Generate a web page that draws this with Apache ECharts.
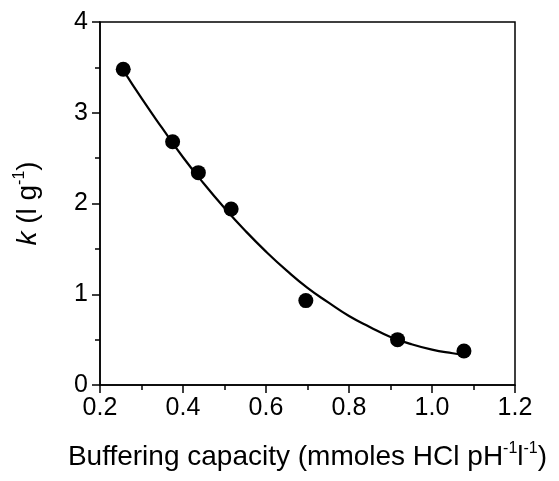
<!DOCTYPE html>
<html>
<head>
<meta charset="utf-8">
<script src="https://cdn.jsdelivr.net/npm/echarts@6/dist/echarts.min.js"></script>
<style>
  html, body { margin: 0; padding: 0; background: #fff; }
  #chart { width: 559px; height: 481px; }
</style>
</head>
<body>
<div id="chart"></div>
<script>
// measured points
const bufferX = [0.256, 0.375, 0.437, 0.516, 0.696, 0.917, 1.077];
const kValues = [3.48, 2.68, 2.34, 1.94, 0.93, 0.50, 0.375];

// fitted curve
const curveX = [0.256, 0.3, 0.35, 0.4, 0.45, 0.5, 0.55, 0.6, 0.65, 0.7, 0.75, 0.8, 0.85, 0.9, 0.95, 1.0, 1.05, 1.08];
const curveY = [3.47, 3.16, 2.83, 2.51, 2.22, 1.95, 1.70, 1.47, 1.26, 1.07, 0.91, 0.76, 0.64, 0.53, 0.45, 0.39, 0.35, 0.33];

const xTicks = ['0.2', '0.4', '0.6', '0.8', '1.0', '1.2'];

const chart = echarts.init(document.getElementById('chart'));

const font = 'Liberation Sans, Arial, sans-serif';

const option = {
  animation: false,
  grid: {
    left: 100,
    right: 44,
    top: 22,
    bottom: 96,
    show: true,
    borderColor: '#000',
    borderWidth: 1.5
  },
  xAxis: {
    type: 'value',
    min: 0.2,
    max: 1.2,
    interval: 0.2,
    splitLine: { show: false },
    axisLine: { lineStyle: { color: '#000', width: 1.5 } },
    axisTick: { inside: false, length: 8, lineStyle: { color: '#000', width: 1.5 } },
    minorTick: { show: true, splitNumber: 2, length: 5, lineStyle: { color: '#000', width: 1.5 } },
    axisLabel: {
      color: '#000',
      fontFamily: font,
      fontSize: 25,
      margin: 11,
      formatter: function (value) {
        var idx = Math.round((value - 0.2) / 0.2);
        return xTicks[idx];
      }
    },
    name: '{n|Buffering capacity (mmoles HCl pH}{s|-1}{n|l}{s|-1}{n|)}',
    nameLocation: 'middle',
    nameGap: 56,
    nameTextStyle: {
      rich: {
        n: { fontFamily: font, fontSize: 28, color: '#000', lineHeight: 32 },
        s: { fontFamily: font, fontSize: 16, color: '#000', lineHeight: 32, verticalAlign: 'top', padding: [0, 0, 12, 0] }
      }
    }
  },
  yAxis: {
    type: 'value',
    min: 0,
    max: 4,
    interval: 1,
    splitLine: { show: false },
    axisLine: { show: true, lineStyle: { color: '#000', width: 1.5 } },
    axisTick: { show: true, inside: false, length: 8, lineStyle: { color: '#000', width: 1.5 } },
    minorTick: { show: true, splitNumber: 2, length: 5, lineStyle: { color: '#000', width: 1.5 } },
    axisLabel: {
      color: '#000',
      fontFamily: font,
      fontSize: 25,
      margin: 12
    },
    name: '{i|k}{n| (l g}{s|-1}{n|)}',
    nameLocation: 'middle',
    nameGap: 56,
    nameTextStyle: {
      rich: {
        i: { fontFamily: font, fontSize: 28, color: '#000', fontStyle: 'italic', lineHeight: 32 },
        n: { fontFamily: font, fontSize: 28, color: '#000', lineHeight: 32 },
        s: { fontFamily: font, fontSize: 16, color: '#000', lineHeight: 32, verticalAlign: 'top', padding: [0, 0, 12, 0] }
      }
    }
  },
  series: [
    {
      name: 'fit',
      type: 'line',
      smooth: true,
      showSymbol: false,
      lineStyle: { color: '#000', width: 2.2 },
      data: curveX.map(function (x, i) { return [x, curveY[i]]; }),
      z: 2
    },
    {
      name: 'k',
      type: 'scatter',
      symbol: 'circle',
      symbolSize: 15,
      itemStyle: { color: '#000', opacity: 1 },
      data: bufferX.map(function (x, i) { return [x, kValues[i]]; }),
      z: 3
    }
  ]
};

chart.setOption(option);
</script>
</body>
</html>
